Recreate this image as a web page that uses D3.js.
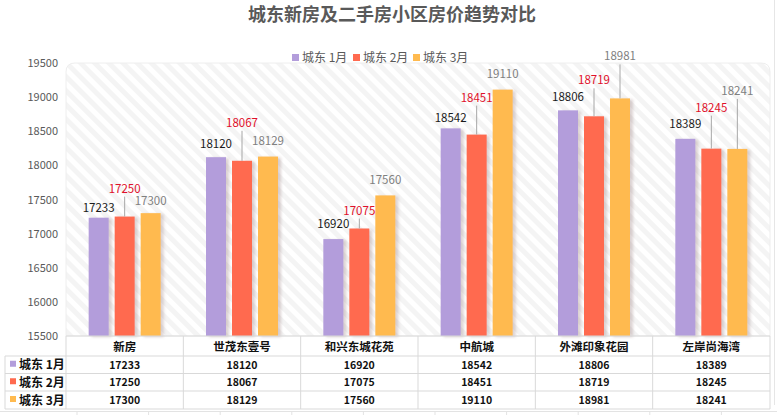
<!DOCTYPE html>
<html><head><meta charset="utf-8">
<script src="https://cdn.jsdelivr.net/npm/d3@7"></script>
<style>
html,body{margin:0;padding:0;background:#fff;}
svg{display:block;font-family:"Noto Sans CJK SC","Noto Sans",sans-serif;}
</style></head>
<body>
<svg id="chart" width="777" height="415"></svg>
<script>
// ---- data ----
const title = "城东新房及二手房小区房价趋势对比";
const categories = ["新房", "世茂东壹号", "和兴东城花苑", "中航城", "外滩印象花园", "左岸尚海湾"];
const seriesNames = ["城东 1月", "城东 2月", "城东 3月"];
const tableNames = ["城东 1月", "城东 2月", "城东 3月"];
const jan = [17233, 18120, 16920, 18542, 18806, 18389];
const feb = [17250, 18067, 17075, 18451, 18719, 18245];
const mar = [17300, 18129, 17560, 19110, 18981, 18241];
const yTicks = [15500, 16000, 16500, 17000, 17500, 18000, 18500, 19000, 19500];

// ---- styles / layout (not data) ----
const colors = ["#B39DDB", "#FF6A4F", "#FFBA4F"];
const labelColors = ["#1a1a1a", "#E0102A", "#808080"];
// manual label lift above bar top (px), like hand-placed Excel labels
const labelLift = [
  [10, 13, 15, 10, 13, 15],
  [28, 38, 18, 37, 36, 41],
  [12, 16, 15, 16, 42, 58]
];

const series = [jan, feb, mar];
const svg = d3.select("#chart");
const W = 777, H = 415;
const plot = {left: 66, right: 770, top: 63, bottom: 336};
const rowsY = [336, 356, 373.5, 391, 409];

const defs = svg.append("defs");
const pat = defs.append("pattern").attr("id", "stripes")
  .attr("patternUnits", "userSpaceOnUse").attr("width", 10).attr("height", 10)
  .attr("patternTransform", "rotate(-45)");
pat.append("rect").attr("width", 10).attr("height", 10).attr("fill", "#fff");
pat.append("rect").attr("width", 5).attr("height", 10).attr("fill", "#f4f4f4");
const f = defs.append("filter").attr("id", "shadow").attr("x", "-20%").attr("y", "-5%").attr("width", "160%").attr("height", "110%");
f.append("feDropShadow").attr("dx", 3).attr("dy", 1).attr("stdDeviation", 1.5)
  .attr("flood-color", "#9a8080").attr("flood-opacity", 0.35);

// outer chart edge (right side)
svg.append("line").attr("x1", 774.5).attr("x2", 774.5).attr("y1", 0).attr("y2", 405)
  .attr("stroke", "#e6e6e6");

// plot area background
svg.append("path")
  .attr("d", `M${plot.left},${plot.bottom} V${plot.top + 9} Q${plot.left},${plot.top} ${plot.left + 9},${plot.top} H${plot.right - 9} Q${plot.right},${plot.top} ${plot.right},${plot.top + 9} V${plot.bottom} Z`)
  .attr("fill", "url(#stripes)").attr("stroke", "#eeeeee");

// title
svg.append("text").attr("x", 392).attr("y", 21).attr("text-anchor", "middle")
  .attr("font-size", 18).attr("font-weight", "bold").attr("fill", "#595959").text(title);

// scales
const x0 = d3.scaleBand().domain(categories).range([plot.left, plot.right]).padding(0);
const x1 = d3.scaleBand().domain(d3.range(3)).range([-36, 36]).paddingInner(6 / 26).paddingOuter(0);
const y = d3.scaleLinear().domain([15500, 19500]).range([plot.bottom, plot.top]);

// y axis
const yAxis = d3.axisLeft(y).tickValues(yTicks).tickSize(0).tickPadding(0).tickFormat(d3.format("d"));
const ya = svg.append("g").attr("transform", "translate(58,0)").call(yAxis);
ya.select(".domain").remove();
ya.selectAll("text").attr("font-size", 11).attr("fill", "#595959")
  .attr("font-family", '"Noto Sans CJK SC","Noto Sans",sans-serif');

// legend
const legX = [292, 353, 413];
const leg = svg.append("g");
seriesNames.forEach((n, i) => {
  leg.append("rect").attr("x", legX[i]).attr("y", 54).attr("width", 7).attr("height", 7).attr("fill", colors[i]);
  leg.append("text").attr("x", legX[i] + 10).attr("y", 61.5).attr("font-size", 12).attr("fill", "#595959").text(n);
});

// bars
const cx = c => x0(c) + x0.bandwidth() / 2;
series.forEach((vals, s) => {
  const g = svg.append("g");
  g.selectAll("rect").data(categories).join("rect")
    .attr("x", c => cx(c) + x1(s))
    .attr("y", (c, i) => y(vals[i]))
    .attr("width", x1.bandwidth())
    .attr("height", (c, i) => plot.bottom - y(vals[i]))
    .attr("fill", colors[s])
    .attr("filter", "url(#shadow)");
});

// labels
series.forEach((vals, s) => {
  categories.forEach((c, i) => {
    const bx = cx(c) + x1(s) + x1.bandwidth() / 2;
    const top = y(vals[i]);
    const ly = top - labelLift[s][i];
    if (s > 0 && labelLift[s][i] >= 17) {
      svg.append("line").attr("x1", bx).attr("x2", bx).attr("y1", ly + 8).attr("y2", top)
        .attr("stroke", "#a6a6a6").attr("stroke-width", 1);
    }
    svg.append("text").attr("x", bx).attr("y", ly + 4).attr("text-anchor", "middle")
      .attr("font-size", 11.5).attr("fill", labelColors[s]).text(vals[i]);
  });
});

// data table
const grid = "#d9d9d9";
const tg = svg.append("g");
rowsY.forEach((ry, k) => {
  tg.append("line").attr("x1", k === 0 ? plot.left : 5).attr("x2", plot.right)
    .attr("y1", ry).attr("y2", ry).attr("stroke", grid);
});
d3.range(categories.length + 1).forEach(k => {
  const xx = plot.left + k * x0.bandwidth();
  tg.append("line").attr("x1", xx).attr("x2", xx).attr("y1", rowsY[0]).attr("y2", rowsY[4]).attr("stroke", grid);
});
tg.append("line").attr("x1", 5).attr("x2", 5).attr("y1", rowsY[1]).attr("y2", rowsY[4]).attr("stroke", grid);

categories.forEach(c => {
  tg.append("text").attr("x", cx(c)).attr("y", (rowsY[0] + rowsY[1]) / 2 + 4.5)
    .attr("text-anchor", "middle").attr("font-size", 11.5).attr("font-weight", "bold").attr("fill", "#111").text(c);
});
series.forEach((vals, s) => {
  const ym = (rowsY[s + 1] + rowsY[s + 2]) / 2 + 4;
  tg.append("rect").attr("x", 10).attr("y", ym - 8).attr("width", 6).attr("height", 6).attr("fill", colors[s]);
  tg.append("text").attr("x", 19).attr("y", ym + 0.5).attr("font-size", 12).attr("font-weight", "bold")
    .attr("fill", "#111").text(tableNames[s]);
  categories.forEach((c, i) => {
    tg.append("text").attr("x", cx(c)).attr("y", ym).attr("text-anchor", "middle")
      .attr("font-size", 10.5).attr("font-weight", "bold").attr("fill", "#111").text(vals[i]);
  });
});

// faint worksheet grid showing below the chart
const bg = svg.append("g");
bg.append("line").attr("x1", 0).attr("x2", W).attr("y1", 411.5).attr("y2", 411.5).attr("stroke", "#e3e3e3");
d3.range(77, W, 71.6).forEach(xx => {
  bg.append("line").attr("x1", xx).attr("x2", xx).attr("y1", 411.5).attr("y2", H).attr("stroke", "#e3e3e3");
});
</script>
</body></html>
